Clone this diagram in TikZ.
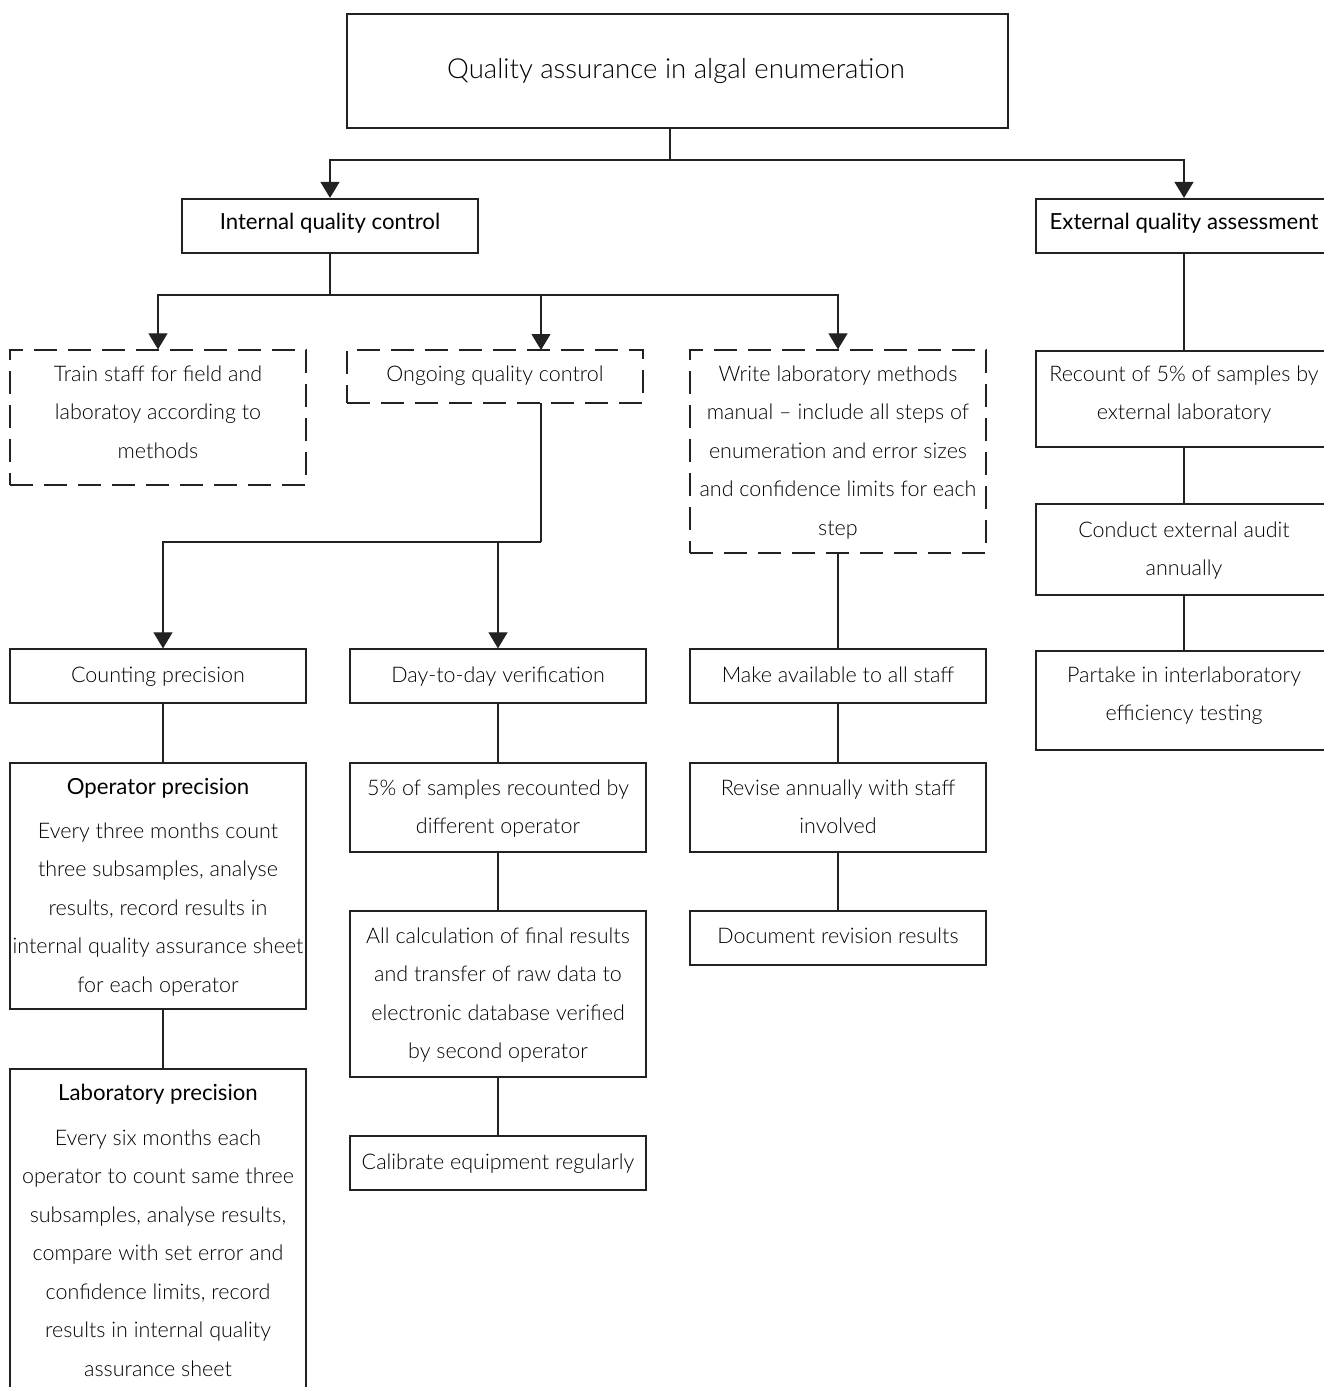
\documentclass[tikz,border=0pt]{standalone}
\usepackage{fontspec}
\setmainfont{Lato Light}[BoldFont={Lato}]
\usetikzlibrary{arrows.meta,fit}
\definecolor{ln}{HTML}{222222}
\tikzset{
  box/.style={draw=ln, line width=1.3pt, inner sep=0pt},
  thk/.style={box, line width=2.2pt},
  dsh/.style={box, dash pattern=on 23pt off 11pt},
  con/.style={draw=ln, line width=1.1pt},
  arr/.style={con, -{Triangle[width=19pt,length=16pt]}},
  txt/.style={font=\fontsize{21.5}{38.5}\selectfont, align=center, inner sep=0pt, text=black},
  hdg/.style={font=\fontsize{22.2}{38.5}\selectfont\bfseries},
}
\newcommand\tx[5][]{\node[txt,anchor=north,#1] (#2) at (#3,{#4-22}) {\rule{0pt}{22pt}#5};}
\newcommand\hb[1]{{\fontsize{22.2}{38.5}\selectfont\bfseries #1}}
\begin{document}
\begin{tikzpicture}[x=1pt,y=-1pt]
\useasboundingbox[fill=white] (0,0) rectangle (1324,1387);
\clip (0,0) rectangle (1324,1387);
% boxes
\node[thk, fit={(347,14) (1008,128)}] (top) {};
\node[thk, fit={(182,199) (478,253)}] (int) {};
\node[thk, fit={(1036,199) (1332,253)}] (ext) {};
\node[dsh, fit={(10,350) (306,485)}] (train) {};
\node[dsh, fit={(347,350) (643,403)}] (ong) {};
\node[dsh, fit={(690,350) (986,553)}] (write) {};
\node[box, fit={(1036,351) (1332,447)}] (rec) {};
\node[box, fit={(1036,504) (1332,595)}] (cond) {};
\node[box, fit={(1036,651) (1332,750)}] (part) {};
\node[box, fit={(10,649) (306,703)}] (count) {};
\node[box, fit={(350,649) (646,703)}] (day) {};
\node[box, fit={(690,649) (986,703)}] (make) {};
\node[box, fit={(10,763) (306,1009)}] (oper) {};
\node[box, fit={(350,763) (646,852)}] (five) {};
\node[box, fit={(690,763) (986,852)}] (revise) {};
\node[box, fit={(350,911) (646,1077)}] (allc) {};
\node[box, fit={(690,911) (986,965)}] (doc) {};
\node[box, fit={(350,1136) (646,1190)}] (cal) {};
\node[box, fit={(10,1069) (306,1400)}] (lab) {};
% texts
\tx[font=\fontsize{27.6}{38.5}\selectfont]{topt}{676}{78}{Quality assurance in algal enumeration}
\tx{intt}{330}{229}{\hb{Internal quality control}}
\tx{extt}{1184}{229}{\hb{External quality assessment}}
\tx{traint}{158}{381}{Train staff for field and\\laboratoy according to\\methods}
\tx{ongt}{495}{381}{Ongoing quality control}
\tx{writet}{838}{381}{Write laboratory methods\\manual – include all steps of\\enumeration and error sizes\\and confidence limits for each\\step}
\tx{rect}{1184}{381}{Recount of 5\% of samples by\\external laboratory}
\tx{condt}{1184}{537}{Conduct external audit\\annually}
\tx{partt}{1184}{682}{Partake in interlaboratory\\efficiency testing}
\tx{countt}{158}{682}{Counting precision}
\tx{dayt}{498}{682}{Day-to-day verification}
\tx{maket}{838}{682}{Make available to all staff}
\tx{opert}{158}{794}{\hb{Operator precision}\\[5.5pt]Every three months count\\three subsamples, analyse\\results, record results in\\internal quality assurance sheet\\for each operator}
\tx{fivet}{498}{795}{5\% of samples recounted by\\different operator}
\tx{reviset}{838}{795}{Revise annually with staff\\involved}
\tx{allct}{498}{943}{All calculation of final results\\and transfer of raw data to\\electronic database verified\\by second operator}
\tx{doct}{838}{943}{Document revision results}
\tx{calt}{498}{1169}{Calibrate equipment regularly}
\tx{labt}{158}{1100}{\hb{Laboratory precision}\\[6.5pt]Every six months each\\operator to count same three\\subsamples, analyse results,\\compare with set error and\\confidence limits, record\\results in internal quality\\assurance sheet}
% junction coordinates
\coordinate (j1) at (670,160);
\coordinate (j2) at (330,295);
\coordinate (ongin) at (541,350);
\coordinate (ongout) at (541,403);
\coordinate (j3) at (541,542);
\coordinate (cx) at (163,0);
% connectors
\draw[con] (top.south -| j1) -- (j1);
\draw[arr] (j1) -| (int.north);
\draw[arr] (j1) -| (ext.north);
\draw[con] (int.south) -- (j2);
\draw[arr] (j2) -| (train.north);
\draw[arr] (j2) -| (ongin);
\draw[arr] (j2) -| (write.north);
\draw[con] (ongout) -- (j3);
\draw[arr] (j3) -| (day.north);
\draw[arr] (j3) -| (count.north -| cx);
\draw[con] (count.south -| cx) -- (oper.north -| cx);
\draw[con] (oper.south -| cx) -- (lab.north -| cx);
\draw[con] (day.south) -- (five.north);
\draw[con] (five.south) -- (allc.north);
\draw[con] (allc.south) -- (cal.north);
\draw[con] (write.south) -- (make.north);
\draw[con] (make.south) -- (revise.north);
\draw[con] (revise.south) -- (doc.north);
\draw[con] (ext.south) -- (rec.north);
\draw[con] (rec.south) -- (cond.north);
\draw[con] (cond.south) -- (part.north);
\end{tikzpicture}
\end{document}
